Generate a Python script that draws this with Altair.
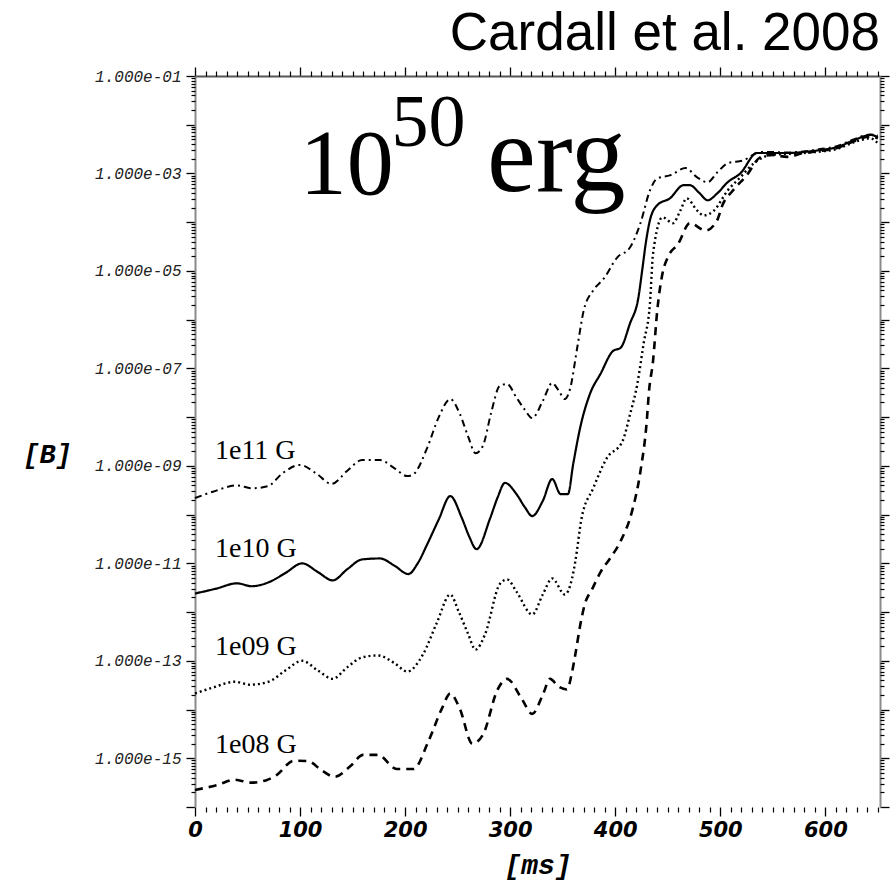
import altair as alt
import pandas as pd

# ---- data (time in ms, log10 of |B|) ----
t_1e11 = [0, 17, 40, 54, 69, 84, 100, 115, 130, 145, 159, 176, 190, 202, 208, 221, 232, 243, 252, 260, 267, 274, 282, 290, 297, 306, 314, 321, 331, 340, 346, 352, 357, 364, 370, 379, 389, 402, 414, 424, 433, 440, 452, 467, 478, 488, 497, 507, 522, 538, 548, 564, 579, 595, 611, 627, 643, 650]
b_1e11 = [-9.66, -9.53, -9.40, -9.46, -9.42, -9.14, -8.98, -9.15, -9.37, -9.10, -8.88, -8.88, -9.05, -9.21, -9.17, -8.63, -8.00, -7.63, -7.93, -8.40, -8.74, -8.59, -7.90, -7.36, -7.32, -7.60, -7.85, -8.02, -7.67, -7.30, -7.45, -7.63, -7.42, -6.55, -5.81, -5.40, -5.16, -4.72, -4.52, -4.02, -3.35, -3.10, -3.04, -2.89, -3.08, -3.18, -2.98, -2.79, -2.73, -2.56, -2.56, -2.57, -2.55, -2.50, -2.44, -2.30, -2.20, -2.22]

t_1e10 = [0, 20, 40, 54, 70, 86, 102, 117, 131, 145, 159, 176, 190, 203, 212, 221, 232, 243, 254, 261, 268, 281, 288, 295, 306, 314, 321, 331, 340, 348, 355, 360, 367, 376, 386, 398, 405, 414, 422, 426, 429, 433, 440, 452, 465, 471, 480, 488, 497, 507, 519, 535, 548, 564, 579, 595, 611, 627, 643, 650]
b_1e10 = [-11.62, -11.52, -11.41, -11.47, -11.39, -11.20, -11.00, -11.18, -11.35, -11.12, -10.92, -10.90, -11.05, -11.22, -11.00, -10.61, -10.10, -9.62, -10.07, -10.45, -10.71, -10.07, -9.65, -9.35, -9.58, -9.85, -10.03, -9.72, -9.27, -9.58, -9.58, -8.96, -8.18, -7.52, -7.11, -6.64, -6.58, -6.08, -5.55, -4.93, -4.44, -3.96, -3.65, -3.51, -3.24, -3.24, -3.40, -3.55, -3.41, -3.18, -3.00, -2.58, -2.58, -2.58, -2.56, -2.52, -2.46, -2.32, -2.21, -2.25]

t_1e09 = [0, 17, 38, 52, 70, 86, 102, 117, 131, 145, 159, 174, 190, 202, 217, 230, 243, 251, 260, 267, 276, 290, 297, 306, 321, 331, 340, 352, 359, 362, 368, 379, 392, 407, 414, 421, 427, 433, 436, 445, 455, 462, 468, 478, 484, 494, 507, 519, 532, 548, 564, 579, 595, 611, 627, 643, 650]
b_1e09 = [-13.67, -13.55, -13.43, -13.49, -13.43, -13.20, -13.00, -13.20, -13.37, -13.13, -12.93, -12.89, -13.05, -13.22, -12.87, -12.23, -11.64, -11.99, -12.45, -12.77, -12.46, -11.43, -11.33, -11.58, -12.05, -11.64, -11.31, -11.64, -11.30, -10.96, -10.07, -9.46, -8.84, -8.49, -7.95, -7.32, -6.49, -5.67, -4.64, -3.90, -4.02, -3.76, -3.51, -3.76, -3.86, -3.76, -3.35, -3.08, -2.79, -2.62, -2.60, -2.58, -2.55, -2.50, -2.36, -2.28, -2.38]

t_1e08 = [0, 21, 38, 53, 68, 78, 94, 108, 120, 133, 148, 160, 174, 192, 208, 222, 235, 243, 252, 264, 274, 288, 297, 311, 321, 331, 338, 346, 354, 359, 362, 367, 371, 378, 386, 395, 405, 416, 424, 430, 432, 436, 440, 445, 450, 460, 471, 486, 497, 502, 512, 525, 538, 548, 564, 579, 595, 611, 627, 643, 650]
b_1e08 = [-15.65, -15.55, -15.44, -15.50, -15.45, -15.34, -15.05, -15.06, -15.24, -15.38, -15.16, -14.93, -14.93, -15.22, -15.22, -14.66, -13.98, -13.67, -13.98, -14.70, -14.52, -13.59, -13.37, -13.78, -14.09, -13.70, -13.37, -13.53, -13.59, -13.22, -12.87, -12.23, -11.84, -11.53, -11.18, -10.90, -10.55, -9.93, -9.11, -8.08, -7.50, -6.84, -5.81, -5.05, -4.72, -4.44, -4.02, -4.17, -3.96, -3.65, -3.35, -3.04, -2.67, -2.62, -2.66, -2.58, -2.54, -2.48, -2.34, -2.24, -2.28]

series_names = ["1e11 G", "1e10 G", "1e09 G", "1e08 G"]
series_dash = [[7, 4, 2, 4], [1, 0], [2, 3], [8, 6]]
series_width = [2.0, 2.6, 2.0, 2.4]

# curve labels (ms, log10 B at baseline)
label_t = [19, 19, 19, 19]
label_b = [-8.86, -10.87, -12.88, -14.89]

# big annotation "10^50 erg" and the title (ms, log10 B at baseline, font size)
big_text = ["10", "50", "erg"]
big_t = [99.7, 187.0, 278.0]
big_b = [-3.42, -2.43, -3.36]
big_size = [94, 74, 110]
title_text = ["Cardall et al. 2008"]
title_t = [652]
title_b = [-0.467]

x_major = [0, 100, 200, 300, 400, 500, 600]
x_minor = [v for v in range(10, 652, 10) if v % 100 != 0]
y_major = [10.0 ** (-k) for k in range(1, 17)]
y_minor = [m * 10.0 ** (-k) for k in range(2, 17) for m in range(2, 10)]

rows = []
for name, ts, bs in [("1e11 G", t_1e11, b_1e11), ("1e10 G", t_1e10, b_1e10),
                     ("1e09 G", t_1e09, b_1e09), ("1e08 G", t_1e08, b_1e08)]:
    for t, b in zip(ts, bs):
        rows.append({"series": name, "t": t, "B": 10.0 ** b})
df = pd.DataFrame(rows)

lab_df = pd.DataFrame({"txt": series_names, "t": label_t, "B": [10.0 ** b for b in label_b]})
big_df = pd.DataFrame({"txt": big_text, "t": big_t, "B": [10.0 ** b for b in big_b], "fs": big_size})
tit_df = pd.DataFrame({"txt": title_text, "t": title_t, "B": [10.0 ** b for b in title_b]})

xs = alt.Scale(domain=[0, 652], nice=False, zero=False)
ys = alt.Scale(type="log", domain=[1e-16, 1e-1], nice=False)

exp_e = "abs(round(log(datum.value)/LN10))"
label_expr = (f"{exp_e} % 2 == 1 ? '1.000e-' + ({exp_e} < 10 ? '0' : '') + {exp_e} : ''")

ax_x_bottom = alt.Axis(orient="bottom", values=x_major, tickSize=9, tickColor="black", tickWidth=1.3,
                       domain=False, grid=False, labelFont="DejaVu Sans", labelFontStyle="italic",
                       labelFontWeight="bold", labelFontSize=21, labelColor="black", labelPadding=3,
                       labelFlush=False, labelOverlap=False, labelBound=False,
                       title="[ms]", titleFont="Liberation Mono", titleFontStyle="italic",
                       titleFontWeight="bold", titleFontSize=28, titleColor="black",
                       titleY=58, titleBaseline="middle")
ax_y_left = alt.Axis(orient="left", values=y_major, tickSize=9, tickColor="black", tickWidth=1.3,
                     domain=True, domainColor="#8a8a8a", domainWidth=2, grid=False,
                     labelExpr=label_expr, labelFont="Liberation Mono", labelFontStyle="italic",
                     labelFontSize=16, labelColor="#222222", labelPadding=5, labelOverlap=False,
                     labelBound=False, labelFlush=False,
                     title="[B]", titleAngle=0, titleX=-148, titleY=378, titleAlign="center",
                     titleBaseline="middle", titleFont="Liberation Mono", titleFontStyle="italic",
                     titleFontWeight="bold", titleFontSize=27, titleColor="black")
ax_x_bottom_minor = alt.Axis(orient="bottom", values=x_minor, tickSize=5, tickColor="black",
                             tickWidth=1.2, domain=False, grid=False, labels=False, title=None)
ax_y_left_minor = alt.Axis(orient="left", values=y_minor, tickSize=4, tickColor="black",
                           tickWidth=1.2, domain=False, grid=False, labels=False, title=None)
ax_x_top = alt.Axis(orient="top", values=x_major, tickSize=9, tickColor="black", tickWidth=1.3,
                    domain=True, domainColor="#555555", domainWidth=2, grid=False, labels=False,
                    title=None)
ax_y_right = alt.Axis(orient="right", values=y_major, tickSize=9, tickColor="black", tickWidth=1.3,
                      domain=True, domainColor="#8a8a8a", domainWidth=2, grid=False, labels=False,
                      title=None)
ax_x_top_minor = alt.Axis(orient="top", values=x_minor, tickSize=5, tickColor="black",
                          tickWidth=1.2, domain=False, grid=False, labels=False, title=None)
ax_y_right_minor = alt.Axis(orient="right", values=y_minor, tickSize=4, tickColor="black",
                            tickWidth=1.2, domain=False, grid=False, labels=False, title=None)

base = alt.Chart(df)

lines = base.mark_line(color="black", strokeCap="butt", strokeJoin="round", interpolate="monotone").encode(
    x=alt.X("t:Q", scale=xs, axis=ax_x_bottom),
    y=alt.Y("B:Q", scale=ys, axis=ax_y_left),
    strokeDash=alt.StrokeDash("series:N", scale=alt.Scale(domain=series_names, range=series_dash), legend=None),
    strokeWidth=alt.StrokeWidth("series:N", scale=alt.Scale(domain=series_names, range=series_width), legend=None),
)

minor = base.mark_point(opacity=0).encode(
    x=alt.X("t:Q", scale=xs, axis=ax_x_bottom_minor),
    y=alt.Y("B:Q", scale=ys, axis=ax_y_left_minor),
)
topright = base.mark_point(opacity=0).encode(
    x=alt.X("t:Q", scale=xs, axis=ax_x_top),
    y=alt.Y("B:Q", scale=ys, axis=ax_y_right),
)
topright_minor = base.mark_point(opacity=0).encode(
    x=alt.X("t:Q", scale=xs, axis=ax_x_top_minor),
    y=alt.Y("B:Q", scale=ys, axis=ax_y_right_minor),
)

labels = alt.Chart(lab_df).mark_text(font="Liberation Serif", fontSize=28, align="left",
                                     baseline="alphabetic", color="black").encode(
    x=alt.X("t:Q", scale=xs, axis=None), y=alt.Y("B:Q", scale=ys, axis=None), text="txt:N")
big = alt.Chart(big_df).mark_text(font="Liberation Serif", align="left",
                                  baseline="alphabetic", color="black").encode(
    x=alt.X("t:Q", scale=xs, axis=None), y=alt.Y("B:Q", scale=ys, axis=None), text="txt:N",
    size=alt.Size("fs:Q", scale=None, legend=None))
tit = alt.Chart(tit_df).mark_text(font="Liberation Sans", fontSize=53, align="right",
                                  baseline="alphabetic", color="black").encode(
    x=alt.X("t:Q", scale=xs, axis=None), y=alt.Y("B:Q", scale=ys, axis=None), text="txt:N")

chart = alt.layer(lines, minor, topright, topright_minor, labels, big, tit).resolve_scale(
    x="shared", y="shared").resolve_axis(x="independent", y="independent").properties(
    width=685, height=731, autosize=alt.AutoSizeParams(type="none"),
    padding={"left": 195, "top": 76, "right": 12, "bottom": 79},
    background="white",
).configure_view(strokeWidth=0)

chart.save("out.html", embed_options={"renderer": "svg", "actions": False})
